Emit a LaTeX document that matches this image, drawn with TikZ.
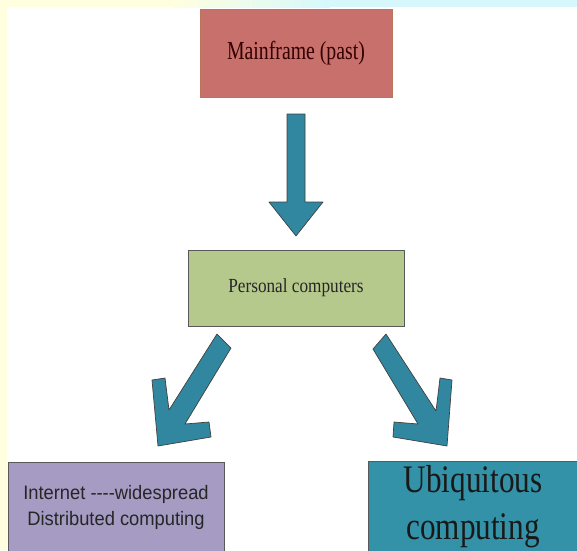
\documentclass[tikz,border=0pt]{standalone}
\usepackage{fontspec}
\setmainfont{Liberation Serif}
\newfontfamily\mainserif[FakeStretch=0.76]{Liberation Serif}
\newfontfamily\pcserif[FakeStretch=0.86]{Liberation Serif}
\newfontfamily\tallserif[FakeStretch=0.8]{Liberation Serif}
\newfontfamily\plainsans[FakeStretch=0.94]{Liberation Sans}
\usetikzlibrary{positioning}
\definecolor{mainred}{HTML}{C8706B}
\definecolor{pcgreen}{HTML}{B6C98D}
\definecolor{netpurple}{HTML}{A59BC3}
\definecolor{ubiteal}{HTML}{3391A8}
\definecolor{arrowteal}{HTML}{31879F}
\definecolor{edgeyellow}{HTML}{FFFFE0}
\definecolor{edgecyan}{HTML}{D6F8FC}
\tikzstyle{box} = [rectangle, text centered, inner sep=0pt, draw=black!65, line width=0.7pt]
\tikzstyle{barrow} = [fill=arrowteal, draw=black!75, line width=0.7pt, line join=round]

\begin{document}
\begin{tikzpicture}[x=1pt,y=-1pt]
			\useasboundingbox (0,0) rectangle (577,550);
			% page edges
			\fill[edgeyellow] (0,0) rectangle (7,550);
			\fill[edgeyellow] (0,0) rectangle (173,7);
			\shade[left color=edgeyellow,right color=edgecyan] (173,0) rectangle (330,7);
			\fill[edgecyan] (330,0) rectangle (577,7);
			% boxes
			\node[box,fill=mainred,draw=mainred!85!olive,minimum width=192pt,minimum height=88pt,text=black!80!red,font={\mainserif\fontsize{26}{30}\selectfont}] (main) at (296,53) {Mainframe (past)};
			\node[box,fill=pcgreen,minimum width=216pt,minimum height=76pt,text=black!85,font={\pcserif\fontsize{20}{24}\selectfont}] (pc) at (296,288) {Personal computers};
			\node[box,fill=netpurple,minimum width=216pt,minimum height=90pt,align=center,text=black!85,font={\plainsans\fontsize{19.5}{26}\selectfont}] (net) at (116,507) {Internet ----widespread\\Distributed computing};
			\node[box,fill=ubiteal,minimum width=210pt,minimum height=91pt,align=center,text=black!90,font={\tallserif\fontsize{39}{47}\selectfont}] (ubi) at (473,506.5) {Ubiquitous\\computing};
			% block arrows
			\draw[barrow] (287,114) -- (305,114) -- (305,202) -- (323,202) -- (296,236) -- (269,202) -- (287,202) -- cycle;
			\draw[barrow] (217,334) -- (231,348) -- (185,424) -- (209,422) -- (211,437) -- (158,446) -- (152,380) -- (165,378) -- (169,410) -- cycle;
			\draw[barrow] (386,334) -- (373,349) -- (418,424) -- (394,422) -- (393,437) -- (447,446) -- (452,380) -- (440,378) -- (436,411) -- cycle;
		\end{tikzpicture}
\end{document}
